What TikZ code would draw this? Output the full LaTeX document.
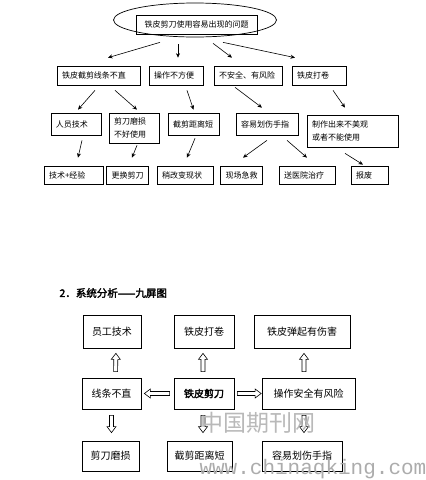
\documentclass[tikz,border=0pt]{standalone}
\usepackage{fontspec}
\setmainfont{Noto Sans CJK SC}[AutoFakeBold=2.5]
\newfontfamily\wmfont{Liberation Mono}
\usetikzlibrary{arrows.meta,positioning,shapes.geometric,calc}

\begin{document}
\begin{tikzpicture}[x=1pt, y=-1pt,
    box/.style={draw, line width=0.7pt, inner xsep=5pt, inner ysep=0pt, align=left, font=\fontsize{8}{13}\selectfont, text width=#1},
    screen/.style={draw, line width=0.7pt, inner sep=0pt, font=\fontsize{10}{12}\selectfont},
    arrow/.style={-{Stealth[length=4.5pt,width=4pt]}, line width=0.6pt},
    hollow/.style 2 args={line width=0.6pt, fill=white, to path={
        ($(\tikztostart)!#1!(\tikztotarget)!2pt!90:(\tikztotarget)$)
        -- ($(\tikztotarget)!#2!(\tikztostart)!6pt!(\tikztostart)!2pt!90:(\tikztotarget)$)
        -- ($(\tikztotarget)!#2!(\tikztostart)!6pt!(\tikztostart)!4.5pt!90:(\tikztotarget)$)
        -- ($(\tikztotarget)!#2!(\tikztostart)$)
        -- ($(\tikztotarget)!#2!(\tikztostart)!6pt!(\tikztostart)!4.5pt!-90:(\tikztotarget)$)
        -- ($(\tikztotarget)!#2!(\tikztostart)!6pt!(\tikztostart)!2pt!-90:(\tikztotarget)$)
        -- ($(\tikztostart)!#1!(\tikztotarget)!2pt!-90:(\tikztotarget)$) -- cycle}}
]
\useasboundingbox (0,0) rectangle (426,480);

% problem tree
\node[ellipse, draw, line width=0.7pt, minimum width=163pt, minimum height=34pt, inner sep=0pt] (ell) at (195,20) {};
\node[draw, line width=0.7pt, minimum width=121pt, minimum height=19pt, inner sep=0pt, font=\fontsize{8}{10}\selectfont] (issue) at (196.5,24.5) {铁皮剪刀使用容易出现的问题};

\node[box=73pt, minimum height=19pt] (cutline) at (98.5,75.5) {铁皮截剪线条不直};
\node[box=44pt, minimum height=19pt] (inconv)  at (176,75.5)  {操作不方便};
\node[box=58pt, minimum height=19pt] (unsafe)  at (248,75.5)  {不安全、有风险};
\node[box=44pt, minimum height=19pt] (curl)    at (319,75.5)  {铁皮打卷};

\node[box=40pt, minimum height=22pt] (skill) at (76,124)    {人员技术};
\node[box=40pt, minimum height=30pt] (wear)  at (134,128)   {剪刀磨损\\不好使用};
\node[box=41pt, minimum height=22pt] (short) at (193.5,124) {截剪距离短};
\node[box=52pt, minimum height=22pt] (hurt)  at (267,124)   {容易划伤手指};
\node[box=81pt, minimum height=32pt] (ugly)  at (352.5,131) {制作出来不美观\\或者不能使用};

\node[box=49pt, minimum height=18pt] (exp)    at (73.5,175)  {技术+经验};
\node[box=32pt, minimum height=18pt] (swap)   at (127.5,175) {更换剪刀};
\node[box=46pt, minimum height=18pt] (change) at (185,175)   {稍改变现状};
\node[box=32pt, minimum height=18pt] (aid)    at (241.5,175) {现场急救};
\node[box=46pt, minimum height=18pt] (hosp)   at (307,175)   {送医院治疗};
\node[box=27pt, minimum height=18pt] (scrap)  at (369.5,175) {报废};

\draw[arrow] ([xshift=-35pt,yshift=-5pt]ell.south) -- ([xshift=9.5pt,yshift=8pt]cutline.north);
\draw[arrow] ([xshift=-17pt,yshift=-7pt]ell.south) -- ([xshift=2pt,yshift=8pt]inconv.north);
\draw[arrow] ([xshift=18pt,yshift=-6pt]ell.south) -- ([xshift=-16pt,yshift=8pt]unsafe.north);
\draw[arrow] ([xshift=28pt,yshift=-5pt]ell.south) -- ([xshift=-24pt,yshift=8pt]curl.north);

\draw[arrow] ([xshift=-3.5pt,yshift=-5pt]cutline.south) -- ([xshift=2pt,yshift=3pt]skill.north);
\draw[arrow] ([xshift=16.5pt,yshift=-5pt]cutline.south) -- ([xshift=3pt,yshift=3pt]wear.north);
\draw[arrow] ([xshift=11pt,yshift=-5pt]inconv.south) -- ([yshift=3pt]short.north);
\draw[arrow] ([xshift=-13pt,yshift=-2pt]unsafe.south) -- ([xshift=-5pt,yshift=5pt]hurt.north);
\draw[arrow] ([xshift=14pt,yshift=-5pt]curl.south) -- ([xshift=-7.5pt,yshift=7pt]ugly.north);

\draw[arrow] ([xshift=6pt,yshift=-5pt]skill.south) -- ([xshift=4.5pt,yshift=8pt]exp.north);
\draw[arrow] ([xshift=3pt,yshift=-2pt]wear.south) -- ([xshift=4.5pt,yshift=8pt]swap.north);
\draw[arrow] ([xshift=1.5pt,yshift=-3pt]short.south) -- ([xshift=2pt,yshift=8pt]change.north);
\draw[arrow] ([yshift=-5pt]hurt.south) -- ([xshift=1.5pt,yshift=8pt]aid.north);
\draw[arrow] ([xshift=20pt,yshift=-5pt]hurt.south) -- ([yshift=8pt]hosp.north);
\draw[arrow] ([xshift=-7.5pt,yshift=-6pt]ugly.south) -- ([xshift=-6.5pt,yshift=1pt]scrap.north);

% nine screens
\node[anchor=west, font=\bfseries\fontsize{10.5}{12}\selectfont] (sec) at (56,293) {2．系统分析——九屏图};

\node[screen, minimum width=58pt, minimum height=33pt] (staff)  at (112,331.5) {员工技术};
\node[screen, minimum width=60pt, minimum height=33pt] (roll)   at (204,331.5) {铁皮打卷};
\node[screen, minimum width=96pt, minimum height=33pt] (spring) at (302,331.5) {铁皮弹起有伤害};

\node[screen, minimum width=59pt, minimum height=31pt] (line)   at (111.5,393.5) {线条不直};
\node[screen, minimum width=60pt, minimum height=31pt, font=\bfseries\fontsize{10}{12}\selectfont] (shears) at (204,393.5) {铁皮剪刀};
\node[screen, minimum width=93pt, minimum height=31pt] (risk)   at (308.5,393.5) {操作安全有风险};

\node[screen, minimum width=57pt, minimum height=30pt] (blunt)  at (110.5,456) {剪刀磨损};
\node[screen, minimum width=65pt, minimum height=30pt] (reach)  at (199.5,456) {截剪距离短};
\node[screen, minimum width=80pt, minimum height=30pt] (finger) at (302,456)   {容易划伤手指};

\draw[hollow={6pt}{5pt}] ([xshift=4pt]line.north) to ([xshift=4pt]staff.south);
\draw[hollow={6pt}{5pt}] ([xshift=-1pt]shears.north) to ([xshift=-1pt]roll.south);
\draw[hollow={6pt}{5pt}] ([xshift=-4.5pt]risk.north) to ([xshift=2pt]spring.south);

\draw[hollow={4pt}{3pt}] (shears.west) to (line.east);
\draw[hollow={3pt}{0.5pt}] (shears.east) to (risk.west);

\draw[hollow={6pt}{8pt}] (line.south) to (line.south |- blunt.north);
\draw[hollow={6pt}{8pt}] ([xshift=-1pt]shears.south) to ([xshift=3.5pt]reach.north);
\draw[hollow={6pt}{8pt}] ([xshift=-4.5pt]risk.south) to ([xshift=2pt]finger.north);

% watermark
\node[text=gray!55, font=\fontsize{23}{23}\selectfont] (wmcn) at (258,423) {中国期刊网};
\node[anchor=west, text=gray!65, font=\wmfont\fontsize{21}{21}\selectfont] (wmurl) at (196,469) {www.chinaqking.com};
\end{tikzpicture}
\end{document}
